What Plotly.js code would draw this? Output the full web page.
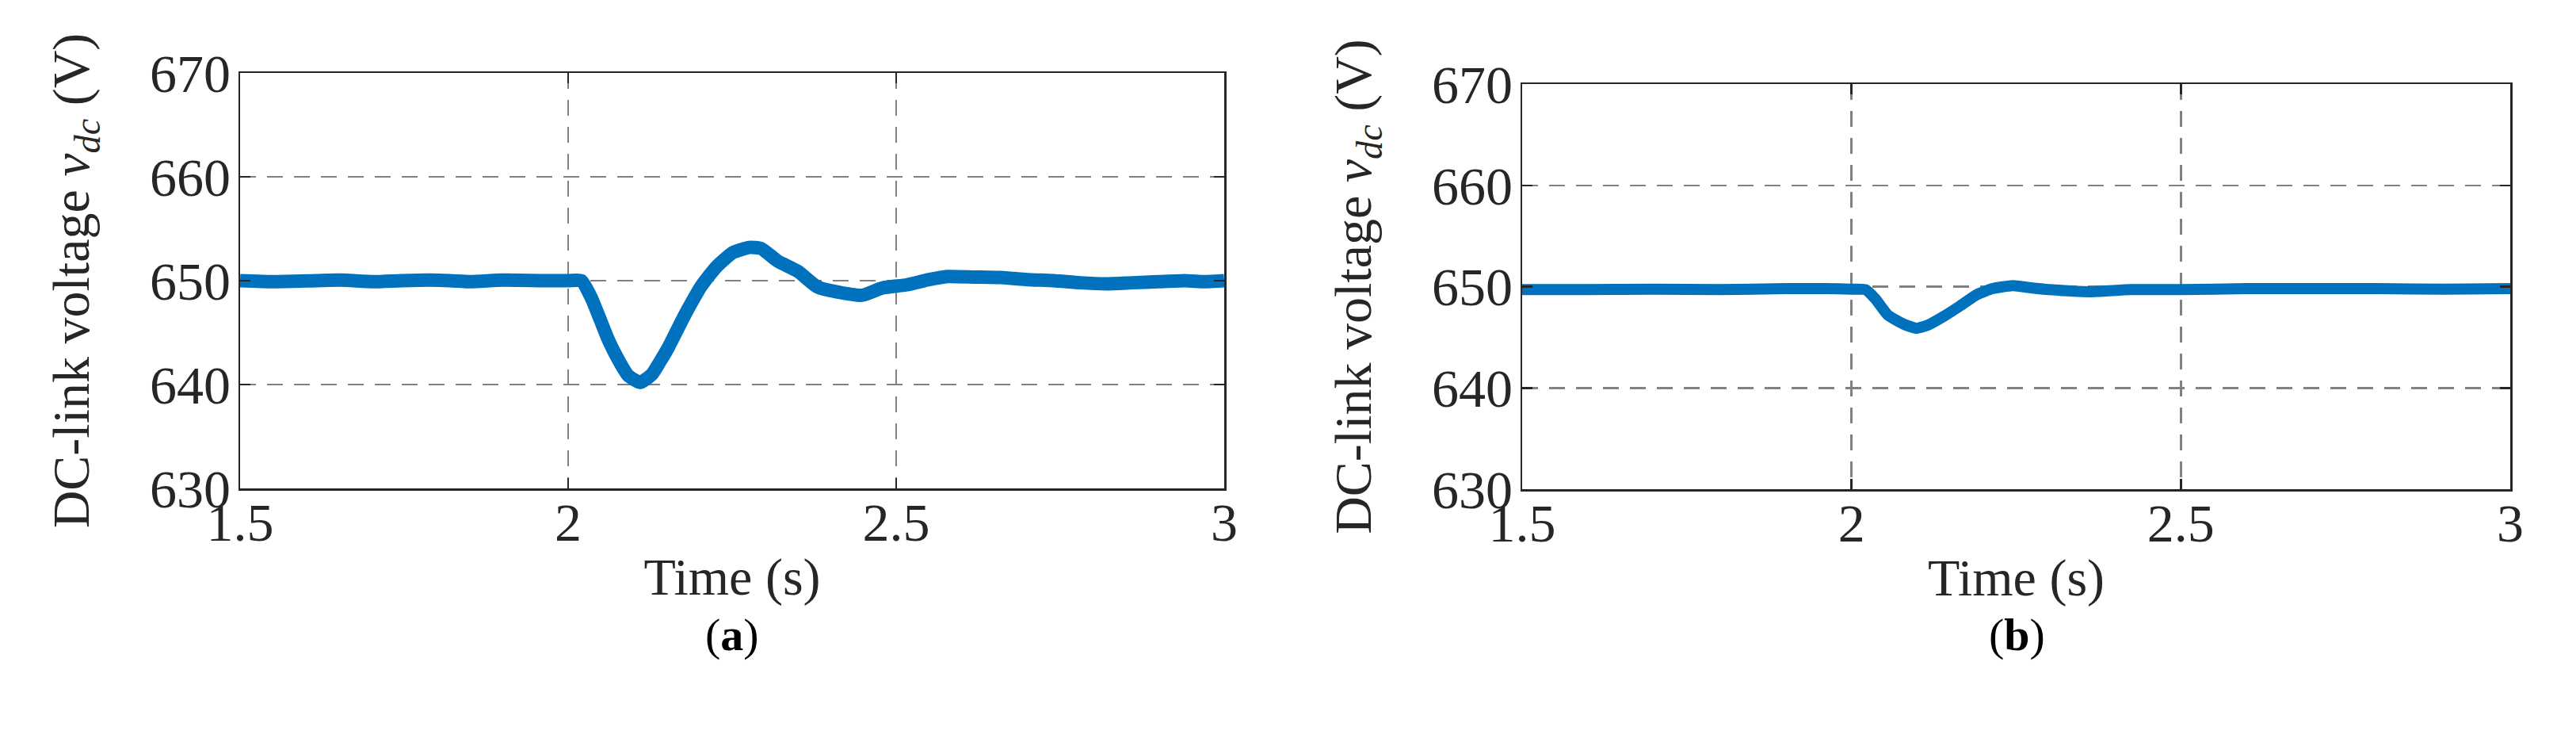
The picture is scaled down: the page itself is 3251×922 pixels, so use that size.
<!DOCTYPE html>
<html>
<head>
<meta charset="utf-8">
<script src="https://cdn.plot.ly/plotly-3.0.1.min.js"></script>
<style>html,body{margin:0;padding:0;background:#fff;}#chart{width:3251px;height:922px;}</style>
</head>
<body>
<div id="chart"></div>
<script>
// Panel (a): DC-link voltage, time (s) and voltage (V)
var timeA = [1.5, 1.55, 1.617, 1.654, 1.703, 1.746, 1.789, 1.82, 1.851, 1.9, 1.962, 2.0, 2.02,
  2.035, 2.048, 2.06, 2.073, 2.091, 2.11, 2.128, 2.14, 2.153, 2.165, 2.177, 2.19, 2.202, 2.215, 2.227, 2.251, 2.276, 2.294, 2.319, 2.35, 2.38, 2.411, 2.448, 2.479, 2.516,
  2.55, 2.578, 2.62, 2.66, 2.7, 2.74, 2.78, 2.82, 2.86, 2.9, 2.94, 2.97, 3.0];
var voltA = [650.0, 649.9, 650.0, 650.05, 649.9, 650.0, 650.05, 650.0, 649.9, 650.05, 650.0, 650.0, 650.0,
  648.4, 646.4, 644.5, 642.8, 640.9, 640.2, 641.0, 642.2, 643.6, 645.1, 646.6, 648.1, 649.4, 650.5, 651.4, 652.7, 653.2, 653.1, 651.9, 650.9, 649.4, 648.9, 648.6, 649.3, 649.6,
  650.1, 650.4, 650.35, 650.3, 650.1, 650.0, 649.8, 649.7, 649.8, 649.9, 650.0, 649.9, 650.0];

// Panel (b): DC-link voltage, time (s) and voltage (V)
var timeB = [1.5, 1.6, 1.7, 1.8, 1.9, 1.96, 2.0, 2.021, 2.036, 2.055, 2.079, 2.098, 2.116, 2.141, 2.165, 2.19, 2.214, 2.245, 2.27,
  2.3, 2.362, 2.423, 2.5, 2.6, 2.7, 2.8, 2.9, 3.0];
var voltB = [649.7, 649.7, 649.75, 649.7, 649.8, 649.8, 649.75, 649.7, 648.8, 647.2, 646.3, 645.9, 646.2, 647.1, 648.1, 649.2, 649.8, 650.1, 649.9,
  649.7, 649.5, 649.7, 649.7, 649.8, 649.8, 649.8, 649.75, 649.8];

var xTickVals = [1.5, 2, 2.5, 3];
var xTickText = ['1.5', '2', '2.5', '3'];
var yTickVals = [630, 640, 650, 660, 670];
var yTickText = ['630', '640', '650', '660', '670'];

var FONT = '"Liberation Serif", "Times New Roman", Times, serif';
var INK = '#262626';
var BLUE = '#0072BD';
var FS_TICK = 68;
var FS_TITLE = 66;

function xAxis(domain, anchor) {
  return {
    domain: domain, anchor: anchor, range: [1.5, 3],
    tickmode: 'array', tickvals: xTickVals, ticktext: xTickText,
    showline: true, mirror: 'ticks', linecolor: INK, linewidth: 2.5,
    ticks: 'inside', ticklen: 13, tickwidth: 2.5, tickcolor: INK,
    showgrid: true, gridcolor: '#808080', gridwidth: 2.5, griddash: '20px,14px',
    zeroline: false,
    tickfont: {family: FONT, size: FS_TICK, color: INK},
    ticklabelstandoff: -18,
    title: {text: 'Time (s)', font: {family: FONT, size: FS_TITLE, color: INK}, standoff: 8},
    automargin: false
  };
}
function yAxis(domain, anchor) {
  return {
    domain: domain, anchor: anchor, range: [630, 670],
    tickmode: 'array', tickvals: yTickVals, ticktext: yTickText,
    showline: true, mirror: 'ticks', linecolor: INK, linewidth: 2.5,
    ticks: 'inside', ticklen: 13, tickwidth: 2.5, tickcolor: INK,
    showgrid: true, gridcolor: '#808080', gridwidth: 2.5, griddash: '20px,14px',
    zeroline: false,
    tickfont: {family: FONT, size: FS_TICK, color: INK},
    ticklabelstandoff: -4,
    title: {text: 'DC-link voltage <i>v</i><sub><i>dc</i></sub> (V)', font: {family: FONT, size: FS_TITLE, color: INK}, standoff: 55},
    automargin: false
  };
}

var traces = [
  {x: timeA, y: voltA, xaxis: 'x', yaxis: 'y', type: 'scatter', mode: 'lines',
   line: {color: BLUE, width: 17, shape: 'spline', smoothing: 0.5}, showlegend: false, hoverinfo: 'skip'},
  {x: timeB, y: voltB, xaxis: 'x2', yaxis: 'y2', type: 'scatter', mode: 'lines',
   line: {color: BLUE, width: 14, shape: 'spline', smoothing: 0.5}, showlegend: false, hoverinfo: 'skip'}
];

var layout = {
  width: 3251, height: 922,
  margin: {l: 0, r: 0, t: 0, b: 0},
  paper_bgcolor: '#ffffff', plot_bgcolor: '#ffffff',
  showlegend: false,
  xaxis: xAxis([303/3251, 1545/3251], 'y'),
  yaxis: yAxis([(922-616)/922, (922-92)/922], 'x'),
  xaxis2: xAxis([1921/3251, 3168/3251], 'y2'),
  yaxis2: yAxis([(922-617)/922, (922-106)/922], 'x2'),
  annotations: [
    {text: '(<b>a</b>)', xref: 'paper', yref: 'paper', x: 924/3251, y: (922-800)/922,
     showarrow: false, xanchor: 'center', yanchor: 'middle', font: {family: FONT, size: 58, color: '#000'}},
    {text: '(<b>b</b>)', xref: 'paper', yref: 'paper', x: 2545/3251, y: (922-800)/922,
     showarrow: false, xanchor: 'center', yanchor: 'middle', font: {family: FONT, size: 58, color: '#000'}}
  ]
};

Plotly.newPlot('chart', traces, layout, {staticPlot: true, displayModeBar: false});
</script>
</body>
</html>
